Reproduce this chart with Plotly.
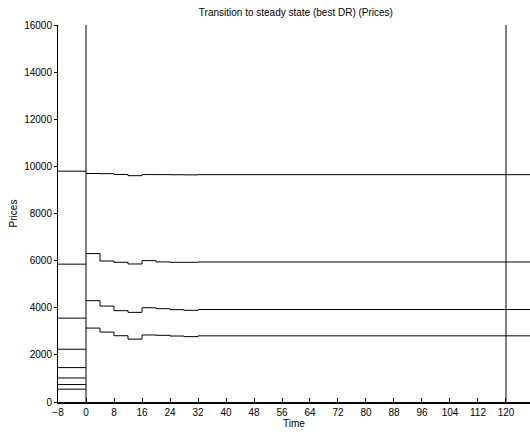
import plotly.graph_objects as go

# Price levels held before the transition starts (t = -8 .. 0)
initial_prices = [9796, 5850, 3560, 2240, 1460, 1020, 740, 545]

# Transition paths: prices at each step start time, held until the next step
step_times = [0, 4, 8, 12, 16, 20, 24, 28, 32, 128]
price_a = [9698, 9690, 9656, 9605, 9652, 9650, 9645, 9640, 9648, 9648]
price_b = [6298, 5984, 5929, 5857, 6000, 5945, 5929, 5929, 5942, 5942]
price_c = [4301, 4072, 3876, 3804, 4000, 3961, 3918, 3890, 3925, 3925]
price_d = [3137, 2967, 2813, 2669, 2845, 2830, 2800, 2775, 2808, 2808]

# Vertical markers: transition start and end of horizon
marker_times = [0, 120]

x_ticks = list(range(-8, 121, 8))
y_ticks = list(range(0, 16001, 2000))

fig = go.Figure()

line_style = dict(color="black", width=1)

for level in initial_prices:
    fig.add_trace(go.Scatter(x=[-8, 0], y=[level, level], mode="lines",
                             line=line_style, hoverinfo="skip"))

for path in (price_a, price_b, price_c, price_d):
    fig.add_trace(go.Scatter(x=step_times, y=path, mode="lines",
                             line=dict(color="black", width=1, shape="hv"),
                             hoverinfo="skip"))

for t in marker_times:
    fig.add_trace(go.Scatter(x=[t, t], y=[0, 16000], mode="lines",
                             line=line_style, hoverinfo="skip"))

font_family = "Liberation Sans, Arial, Helvetica, sans-serif"

fig.update_layout(
    width=530, height=432,
    margin=dict(l=58, r=0, t=25, b=30),
    paper_bgcolor="white", plot_bgcolor="white",
    showlegend=False,
    font=dict(family=font_family, size=10, color="black"),
    title=dict(text="Transition to steady state (best DR) (Prices)",
               x=0.504, xanchor="center", xref="paper",
               y=1 - 12 / 432, yanchor="middle",
               font=dict(size=10, color="black")),
    xaxis=dict(
        range=[-8, 126.86], tickmode="array", tickvals=x_ticks,
        ticktext=[("\u2212" + str(-v)) if v < 0 else str(v) for v in x_ticks],
        ticks="inside", ticklen=4, tickcolor="black",
        showline=True, linecolor="black", linewidth=2,
        showgrid=False, zeroline=False,
        title=dict(text="Time", standoff=2, font=dict(size=10)),
        tickfont=dict(size=10),
    ),
    yaxis=dict(
        range=[0, 16000], tickmode="array", tickvals=y_ticks,
        ticktext=[str(v) for v in y_ticks],
        ticks="outside", ticklen=3, tickcolor="black",
        showline=True, linecolor="black", linewidth=1,
        showgrid=False, zeroline=False,
        title=dict(text="Prices", standoff=4, font=dict(size=10)),
        tickfont=dict(size=10),
    ),
)

fig.write_html("out.html")
